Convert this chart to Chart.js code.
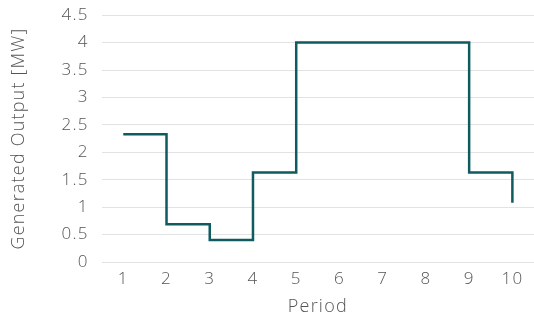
<!DOCTYPE html>
<html>
<head>
<meta charset="utf-8">
<script src="https://cdn.jsdelivr.net/npm/chart.js@4"></script>
<style>
  html, body { margin: 0; padding: 0; background: #fff; }
  #wrap { width: 534px; height: 320px; }
</style>
</head>
<body>
<div id="wrap"><canvas id="chartCanvas"></canvas></div>
<script>
// data
const periods = ['1', '2', '3', '4', '5', '6', '7', '8', '9', '10']
const output = [2.33, 0.69, 0.4, 1.63, 4, 4, 4, 4, 1.63, 1.08]

const fontFam = '"Open Sans", Lato, sans-serif'
const textCol = '#555555'

// the reference text is spaced a bit wider, canvas can do that
const spacing = {
  id: 'spacing',
  beforeLayout: chart => { chart.ctx.letterSpacing = '1.2px' },
  beforeDraw: chart => { chart.ctx.letterSpacing = '1.2px' }
}

new Chart(document.getElementById('chartCanvas'), {
  type: 'line',
  data: {
    labels: periods,
    datasets: [{
      label: 'Generated Output',
      data: output,
      stepped: true,
      borderColor: '#0f5b5f',
      borderWidth: 2.5,
      pointRadius: 0,
      fill: false
    }]
  },
  plugins: [spacing],
  options: {
    responsive: true,
    maintainAspectRatio: false,
    animation: false,
    layout: { padding: { top: 0, right: 0, left: 8, bottom: 0 } },
    plugins: { legend: { display: false }, tooltip: { enabled: false } },
    scales: {
      x: {
        offset: true,
        grid: { display: false, drawTicks: false },
        border: { display: false },
        ticks: { color: textCol, font: { family: fontFam, size: 17, weight: 300 }, padding: 7 },
        title: { display: true, text: 'Period', color: textCol, font: { family: fontFam, size: 18, weight: 300 }, padding: { top: 0, bottom: 2 } }
      },
      y: {
        min: 0,
        max: 4.5,
        // invisible tick marks make the gap, so the tick padding stays small
        grid: { color: '#e2e2e2', drawTicks: true, tickLength: 8, tickColor: 'rgba(0,0,0,0)' },
        border: { display: false },
        ticks: {
          stepSize: 0.5, color: textCol, font: { family: fontFam, size: 17, weight: 300 }, padding: 5,
          callback: v => String(v)
        },
        title: { display: true, text: 'Generated Output [MW]', color: textCol, font: { family: fontFam, size: 18, weight: 300 }, padding: { top: 0, bottom: 27 } }
      }
    }
  }
})
</script>
</body>
</html>
